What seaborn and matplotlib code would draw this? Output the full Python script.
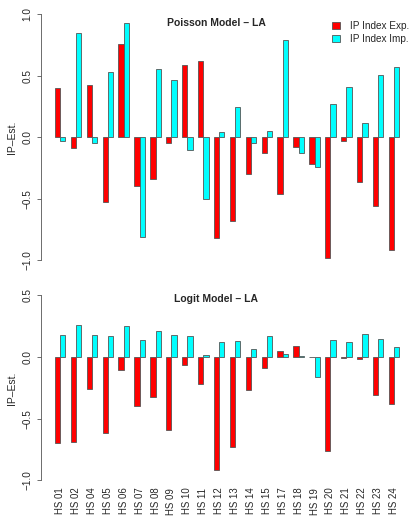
import matplotlib
matplotlib.use('Agg')
import pandas as pd
import matplotlib.pyplot as plt
import seaborn as sns
from matplotlib.patches import Patch

# categories and estimates
sectors = ['HS 01', 'HS 02', 'HS 04', 'HS 05', 'HS 06', 'HS 07', 'HS 08', 'HS 09',
           'HS 10', 'HS 11', 'HS 12', 'HS 13', 'HS 14', 'HS 15', 'HS 17', 'HS 18',
           'HS 19', 'HS 20', 'HS 21', 'HS 22', 'HS 23', 'HS 24']
series_names = ['IP Index Exp.', 'IP Index Imp.']

poisson_exp = [0.40, -0.085, 0.425, -0.53, 0.76, -0.40, -0.34, -0.044, 0.585, 0.62, -0.82,
               -0.68, -0.30, -0.125, -0.46, -0.08, -0.215, -0.98, -0.03, -0.36, -0.56, -0.92]
poisson_imp = [-0.03, 0.845, -0.05, 0.53, 0.93, -0.81, 0.553, 0.47, -0.10, -0.50, 0.04,
               0.245, -0.05, 0.05, 0.79, -0.13, -0.24, 0.273, 0.41, 0.114, 0.51, 0.574]

logit_exp = [-0.695, -0.686, -0.257, -0.62, -0.108, -0.395, -0.324, -0.59, -0.062, -0.222, -0.92,
             -0.73, -0.268, -0.092, 0.046, 0.089, -0.003, -0.76, -0.011, -0.014, -0.305, -0.378]
logit_imp = [0.178, 0.257, 0.178, 0.168, 0.249, 0.138, 0.214, 0.178, 0.168, 0.014, 0.122,
             0.127, 0.065, 0.168, 0.027, 0.011, -0.165, 0.135, 0.124, 0.184, 0.143, 0.078]

colors = ['#FF0000', '#00FFFF']

sns.set_theme(style='white')
plt.rcParams['font.family'] = ['Liberation Sans', 'DejaVu Sans']


def long_table(exp, imp):
    return pd.DataFrame({
        'sector': sectors * 2,
        'series': [series_names[0]] * len(sectors) + [series_names[1]] * len(sectors),
        'value': exp + imp,
    })


W, H = 410, 516
fig = plt.figure(figsize=(W / 100, H / 100), dpi=100)

# axes boxes in pixels
ax_top = fig.add_axes([41 / W, 1 - 270.1 / H, (410 - 41) / W, (270.1 - 4.5) / H])
ax_bot = fig.add_axes([41 / W, 1 - 487.7 / H, (410 - 41) / W, (487.7 - 288) / H])

panels = [
    (ax_top, poisson_exp, poisson_imp, (-1.08, 1.08), [-1.0, -0.5, 0.0, 0.5, 1.0], 'Poisson Model \u2013 LA', 23),
    (ax_bot, logit_exp, logit_imp, (-1.06, 0.56), [-1.0, -0.5, 0.0, 0.5], 'Logit Model \u2013 LA', 299),
]

for ax, exp, imp, ylim, yticks, title, title_y in panels:
    df = long_table(exp, imp)
    sns.barplot(data=df, x='sector', y='value', hue='series', hue_order=series_names,
                palette=colors, saturation=1, width=2 / 3, errorbar=None,
                edgecolor='#555555', linewidth=0.6, legend=False, ax=ax)
    ax.set_xlim(-1.2, 22.0)
    ax.set_ylim(*ylim)
    ax.set_yticks(yticks)
    ax.set_yticklabels([f'{t:.1f}'.replace('-', '\u2212') for t in yticks],
                       rotation=90, va='center', fontsize=7.2)
    ax.set_ylabel('IP\u2013Est.', fontsize=7.5, labelpad=4)
    ax.set_xlabel('')
    for s in ['top', 'right', 'bottom']:
        ax.spines[s].set_visible(False)
    ax.spines['left'].set_bounds(yticks[0], yticks[-1])
    ax.spines['left'].set_color('#555555')
    ax.spines['left'].set_linewidth(0.6)
    ax.tick_params(axis='y', length=3, width=0.6, color='#555555', pad=3, left=True)
    ax.set_facecolor('white')
    fig.text(216 / W, 1 - title_y / H, title, ha='center', va='center',
             fontsize=7.5, fontweight='bold')

ax_top.set_xticks([])
ax_bot.set_xticks(range(len(sectors)))
ax_bot.set_xticklabels(sectors, rotation=90, fontsize=6.9, va='top')
ax_bot.tick_params(axis='x', length=0, pad=0)

handles = [Patch(facecolor=c, edgecolor='#555555', linewidth=0.6) for c in colors]
fig.legend(handles, series_names, loc='upper left', bbox_to_anchor=(332 / W, 1 - 21 / H),
           frameon=False, fontsize=7.2, handlelength=0.8, handleheight=0.8,
           handletextpad=1.0, labelspacing=0.3, borderpad=0, borderaxespad=0)

fig.savefig('out.png', dpi=100, facecolor='white')
